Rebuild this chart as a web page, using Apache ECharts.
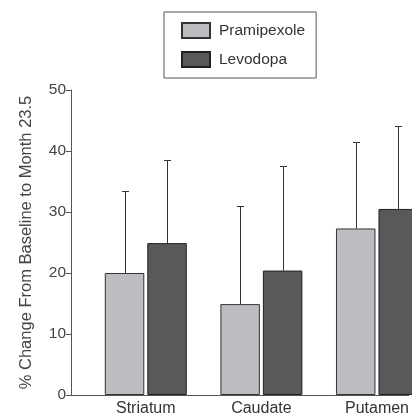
<!DOCTYPE html>
<html><head><meta charset="utf-8">
<script src="https://cdn.jsdelivr.net/npm/echarts@6/dist/echarts.min.js"></script>
<style>html,body{margin:0;padding:0;background:#fff;}#c{width:412px;height:419px;}</style>
</head><body><div id="c"></div>
<script>
const categories = ['Striatum', 'Caudate', 'Putamen'];
const seriesNames = ['Pramipexole', 'Levodopa'];
const pramipexole = [20.0, 14.9, 27.3];
const levodopa = [24.9, 20.4, 30.5];
const pramipexoleUpper = [33.5, 31.0, 41.4];
const levodopaUpper = [38.6, 37.6, 44.1];
const yTicks = [0, 10, 20, 30, 40, 50];

const BAR_W = 39.5, BAR_GAP = 3;
const colors = ['#bcbdc0', '#58595b'];
const font = 'Liberation Sans, Arial, sans-serif';

function errSeries(vals, uppers, dir) {
  return {
    type: 'custom',
    silent: true,
    clip: false,
    z: 1,
    data: vals.map((v, i) => [i, v, uppers[i]]),
    renderItem: function (params, api) {
      const off = dir * (BAR_W + BAR_GAP) / 2;
      const p0 = api.coord([api.value(0), api.value(1)]);
      const p1 = api.coord([api.value(0), api.value(2)]);
      const x = Math.round(p0[0] + off) + 0.5;
      const y1 = Math.round(p1[1]) + 0.5;
      const style = { stroke: '#333', lineWidth: 1 };
      return {
        type: 'group',
        children: [
          { type: 'line', shape: { x1: x, y1: p0[1], x2: x, y2: y1 }, style: style },
          { type: 'line', shape: { x1: x - 3.5, y1: y1, x2: x + 3.5, y2: y1 }, style: style }
        ]
      };
    }
  };
}

const chart = echarts.init(document.getElementById('c'), null, { renderer: 'canvas' });
chart.setOption({
  animation: false,
  textStyle: { fontFamily: font },
  legend: {
    data: seriesNames.map(n => ({ name: n, icon: 'rect' })),
    orient: 'vertical',
    left: 164, top: 12,
    itemWidth: 28, itemHeight: 15, itemGap: 12,
    padding: [10, 11, 10, 17],
    borderColor: '#555', borderWidth: 1,
    textStyle: { color: '#333', fontSize: 15.5, fontFamily: font, padding: [0, 0, 0, 4] }
  },
  grid: { left: 71, top: 90, bottom: 24, right: 0, containLabel: false },
  xAxis: {
    type: 'value',
    min: -0.647, max: 2.275,
    splitLine: { show: false },
    axisLine: { show: true, onZero: false, lineStyle: { color: '#555', width: 1 } },
    axisTick: { show: false },
    axisLabel: {
      customValues: [0, 1, 2],
      formatter: v => categories[Math.round(v)] || '',
      color: '#333', fontSize: 16, margin: 6, fontFamily: font,
      showMinLabel: true, showMaxLabel: true
    }
  },
  yAxis: {
    type: 'value',
    min: 0, max: 50, interval: 10,
    name: '% Change From Baseline to Month 23.5',
    nameLocation: 'middle', nameRotate: 90, nameGap: 36,
    nameTextStyle: { color: '#444', fontSize: 16.5, fontFamily: font },
    splitLine: { show: false },
    axisLine: { show: true, onZero: false, lineStyle: { color: '#555', width: 1 } },
    axisTick: { show: true, length: 5, lineStyle: { color: '#555' } },
    axisLabel: { color: '#444', fontSize: 15.5, margin: 5, fontFamily: font,
      formatter: v => yTicks.includes(v) ? String(v) : '' }
  },
  series: [
    errSeries(pramipexole, pramipexoleUpper, -1),
    errSeries(levodopa, levodopaUpper, 1),
    {
      name: seriesNames[0], type: 'bar', z: 2, clip: false,
      barWidth: BAR_W, barGap: (BAR_GAP / BAR_W * 100) + '%',
      data: pramipexole.map((v, i) => [i, v]),
      itemStyle: { color: colors[0], borderColor: '#333', borderWidth: 1 }
    },
    {
      name: seriesNames[1], type: 'bar', z: 2, clip: false,
      barWidth: BAR_W, barGap: (BAR_GAP / BAR_W * 100) + '%',
      data: levodopa.map((v, i) => [i, v]),
      itemStyle: { color: colors[1], borderColor: '#222', borderWidth: 1 }
    }
  ]
});
</script></body></html>
